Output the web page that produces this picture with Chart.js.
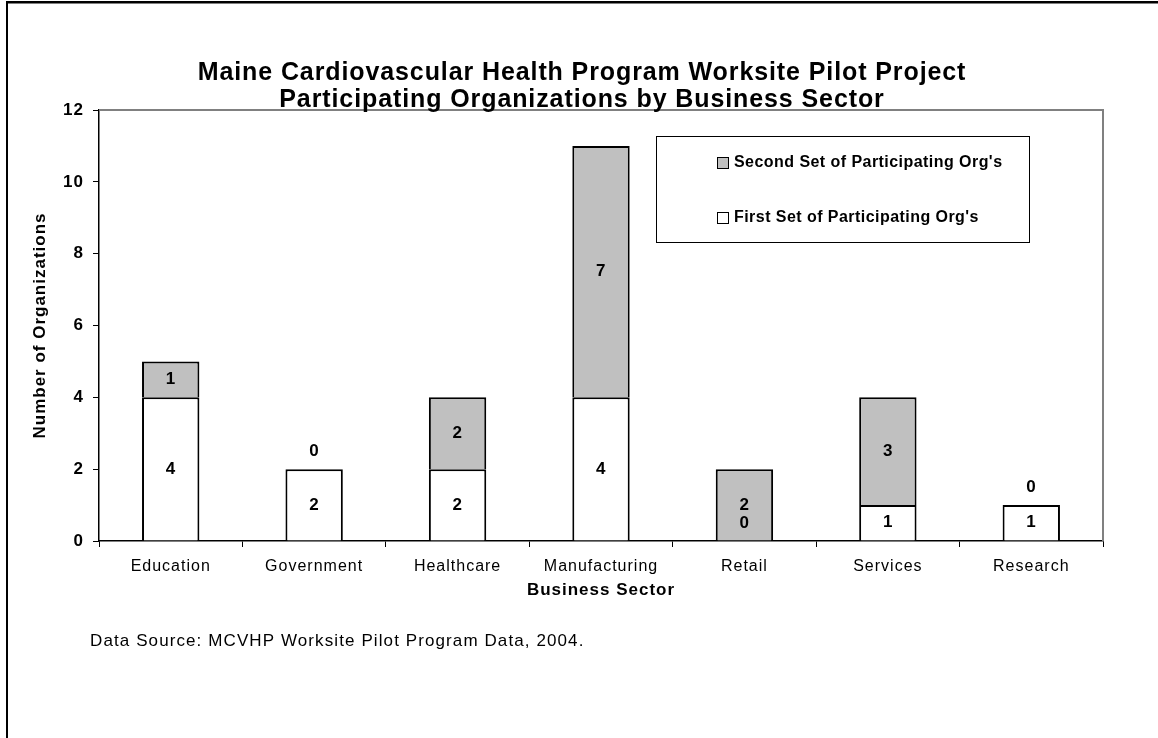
<!DOCTYPE html>
<html>
<head>
<meta charset="utf-8">
<script src="https://cdn.jsdelivr.net/npm/chart.js@4/dist/chart.umd.min.js"></script>
<style>
  html, body { margin: 0; padding: 0; background: #fff; }
  #wrap { width: 1158px; height: 738px; position: relative; }
</style>
</head>
<body>
<div id="wrap"><canvas id="sectorChart"></canvas></div>
<script>
// DATA
const categories = ['Education', 'Government', 'Healthcare', 'Manufacturing', 'Retail', 'Services', 'Research'];
const firstSet = [4, 2, 2, 4, 0, 1, 1];
const secondSet = [1, 0, 2, 7, 2, 3, 0];
const seriesNames = ["First Set of Participating Org's", "Second Set of Participating Org's"];
const titleLines = ['Maine Cardiovascular Health Program Worksite Pilot Project', 'Participating Organizations by Business Sector'];
const sourceNote = 'Data Source: MCVHP Worksite Pilot Program Data, 2004.';

const FONT = '"Liberation Sans", Arial, sans-serif';

// drawing extras: page frame, title, value labels, legend box, footnote
const decor = {
    id: 'decor',
    beforeLayout(chart) {
        chart.ctx.letterSpacing = '1px';
    },
    beforeDraw(chart) {
        const ctx = chart.ctx;
        ctx.letterSpacing = '1px';
        ctx.save();
        ctx.fillStyle = '#000';
        ctx.fillRect(6, 1, chart.width - 6, 2.5);
        ctx.fillRect(6, 1, 2, chart.height);
        ctx.restore();
    },
    afterDatasetsDraw(chart) {
        const ctx = chart.ctx;
        ctx.save();
        ctx.letterSpacing = '0.5px';
        ctx.font = 'bold 17px ' + FONT;
        ctx.fillStyle = '#000';
        ctx.textAlign = 'center';
        ctx.textBaseline = 'middle';
        chart.data.datasets.forEach((ds, i) => {
            chart.getDatasetMeta(i).data.forEach((bar, j) => {
                const v = ds.data[j];
                const p = bar.getProps(['x', 'y', 'base'], true);
                const y = v === 0 ? p.y - 18 : (p.y + p.base) / 2;
                ctx.fillText(String(v), p.x, y);
            });
        });
        ctx.restore();
    },
    afterDraw(chart) {
        const ctx = chart.ctx;
        const area = chart.chartArea;
        ctx.save();

        // plot frame (top + right)
        ctx.strokeStyle = '#808080';
        ctx.lineWidth = 2;
        ctx.beginPath();
        ctx.moveTo(area.left, area.top);
        ctx.lineTo(area.right, area.top);
        ctx.lineTo(area.right, area.bottom);
        ctx.stroke();

        // title
        ctx.fillStyle = '#000';
        ctx.textAlign = 'center';
        ctx.textBaseline = 'middle';
        ctx.letterSpacing = '0.9px';
        ctx.font = 'bold 25px ' + FONT;
        titleLines.forEach((t, i) => ctx.fillText(t, 582, 73 + i * 27));

        // legend box
        ctx.strokeStyle = '#000';
        ctx.lineWidth = 1;
        ctx.strokeRect(656.5, 136.5, 373, 106);
        ctx.letterSpacing = '0.45px';
        ctx.font = 'bold 16px ' + FONT;
        ctx.textAlign = 'left';
        const items = chart.data.datasets.map(ds => ({ label: ds.label, color: ds.backgroundColor })).reverse();
        items.forEach((it, i) => {
            const cy = 163 + i * 55;
            ctx.fillStyle = it.color;
            ctx.fillRect(717.5, cy - 5.5, 11, 11);
            ctx.strokeRect(717.5, cy - 5.5, 11, 11);
            ctx.fillStyle = '#000';
            ctx.fillText(it.label, 734, cy);
        });

        // footnote
        ctx.font = '17px ' + FONT;
        ctx.letterSpacing = '1.1px';
        ctx.fillText(sourceNote, 90, 641);

        ctx.restore();
    }
};

const ctx = document.getElementById('sectorChart');

const sectorChart = new Chart(ctx, {
    type: 'bar',
    data: {
        labels: categories,
        datasets: [
            {
                label: seriesNames[0],
                data: firstSet,
                backgroundColor: '#FFFFFF',
                borderColor: '#000',
                borderWidth: 2,
                borderSkipped: 'start',
                barPercentage: 0.4,
                categoryPercentage: 1.0
            },
            {
                label: seriesNames[1],
                data: secondSet,
                backgroundColor: '#C0C0C0',
                borderColor: '#000',
                borderWidth: 2,
                borderSkipped: 'start',
                barPercentage: 0.4,
                categoryPercentage: 1.0
            }
        ]
    },
    options: {
        responsive: true,
        maintainAspectRatio: false,
        animation: false,
        layout: { padding: { top: 110, right: 55, bottom: 0, left: 0 } },
        plugins: {
            legend: { display: false },
            title: { display: false },
            tooltip: { enabled: false }
        },
        scales: {
            x: {
                stacked: true,
                grid: { offset: true, drawOnChartArea: false, drawTicks: true, tickLength: 6, color: '#000', lineWidth: 1 },
                border: { color: '#000', width: 1.5 },
                ticks: { color: '#000', padding: 10, font: { family: FONT, size: 16 } },
                title: {
                    display: true,
                    text: 'Business Sector',
                    color: '#000',
                    font: { family: FONT, size: 17, weight: 'bold' },
                    padding: { top: 0, bottom: 137 }
                },
                afterFit(scale) { scale.height = 197; }
            },
            y: {
                stacked: true,
                min: 0,
                max: 12,
                grid: { drawOnChartArea: false, drawTicks: true, tickLength: 6, color: '#000', lineWidth: 1 },
                border: { color: '#000', width: 1.5 },
                ticks: { stepSize: 2, color: '#000', padding: 9, font: { family: FONT, size: 17, weight: 'bold' } },
                title: {
                    display: true,
                    text: 'Number of Organizations',
                    color: '#000',
                    font: { family: FONT, size: 17, weight: 'bold' },
                    padding: { top: 30, bottom: 0 }
                },
                afterFit(scale) { scale.width = 99; }
            }
        }
    },
    plugins: [decor]
});
</script>
</body>
</html>
